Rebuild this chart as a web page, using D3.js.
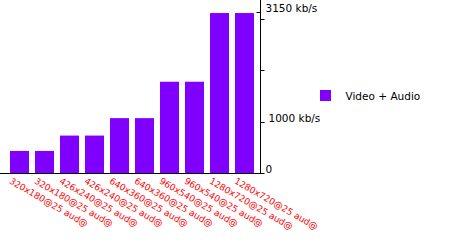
<!DOCTYPE html>
<html>
<head>
<meta charset="utf-8">
<script src="https://cdn.jsdelivr.net/npm/d3@7"></script>
<style>
  body { margin: 0; background: #fff; }
  text { font-family: "DejaVu Sans", Verdana, sans-serif; }
</style>
</head>
<body>
<div id="chart"></div>
<script>
// bitrate ladder, values (kb/s)
const labels = ["320x180@25 aud@", "320x180@25 aud@", "426x240@25 aud@", "426x240@25 aud@",
  "640x360@25 aud@", "640x360@25 aud@", "960x540@25 aud@", "960x540@25 aud@",
  "1280x720@25 aud@", "1280x720@25 aud@"];
const bitrates = [430, 430, 730, 730, 1070, 1070, 1780, 1780, 3120, 3120];
const tickValues = [0, 1000, 2000, 3000];
const tickLabels = [[0, "0"], [1000, "1000 kb/s"], [3150, "3150 kb/s"]];
const maxRate = 3150;
const seriesName = "Video + Audio";

const width = 450, height = 240;
const svg = d3.select("#chart").append("svg")
  .attr("width", width)
  .attr("height", height);

const baseY = 173;
const axisX = 260.5;

const x = d3.scaleBand()
  .domain(d3.range(labels.length))
  .range([10, 254])
  .paddingInner(0.24)
  .paddingOuter(0);

const y = d3.scaleLinear()
  .domain([0, maxRate])
  .range([baseY, 11.5]);

// bars
svg.selectAll("rect.bar")
  .data(bitrates)
  .enter()
  .append("rect")
  .attr("class", "bar")
  .attr("x", function(d, i) { return x(i); })
  .attr("width", x.bandwidth())
  .attr("y", function(d) { return y(d); })
  .attr("height", function(d) { return baseY - y(d); })
  .attr("fill", "#8000ff");

// baseline
svg.append("line")
  .attr("x1", 0).attr("x2", 263)
  .attr("y1", baseY + 0.5).attr("y2", baseY + 0.5)
  .attr("stroke", "#000");

// y axis on the right of the bars
const axis = svg.append("g")
  .attr("transform", "translate(" + axisX + ",0)")
  .call(d3.axisRight(y).tickValues(tickValues).tickSize(4).tickFormat(""));
axis.select(".domain").remove();
axis.selectAll("line").attr("stroke", "#000");
axis.selectAll(".tick").attr("transform", function(d) {
  return "translate(0," + (Math.round(y(d)) + 0.5) + ")";
});

svg.append("line")
  .attr("x1", axisX).attr("x2", axisX)
  .attr("y1", 0).attr("y2", baseY + 1)
  .attr("stroke", "#000");

// max marker tick on the left
svg.append("line")
  .attr("x1", axisX - 4).attr("x2", axisX)
  .attr("y1", Math.round(y(maxRate)) + 0.5).attr("y2", Math.round(y(maxRate)) + 0.5)
  .attr("stroke", "#000");

svg.selectAll("text.ylab")
  .data(tickLabels)
  .enter()
  .append("text")
  .attr("class", "ylab")
  .attr("x", function(d) { return d[0] === 1000 ? 268.5 : 265.5; })
  .attr("y", function(d) { return Math.round(y(d[0])) - 0.5; })
  .attr("font-size", "10.5px")
  .attr("fill", "#000")
  .text(function(d) { return d[1]; });

// rotated category labels
svg.selectAll("text.xlab")
  .data(labels)
  .enter()
  .append("text")
  .attr("class", "xlab")
  .attr("transform", function(d, i) {
    return "translate(" + (x(i) + 2) + "," + (baseY + 4) + ") rotate(30)";
  })
  .attr("dy", "0.75em")
  .attr("font-size", "9px")
  .attr("fill", "#ff0000")
  .text(function(d) { return d; });

// legend
svg.append("rect")
  .attr("x", 320).attr("y", 90)
  .attr("width", 11).attr("height", 11)
  .attr("fill", "#8000ff");
svg.append("text")
  .attr("x", 345.5).attr("y", 100)
  .attr("font-size", "10.5px")
  .attr("fill", "#000")
  .text(seriesName);
</script>
</body>
</html>
